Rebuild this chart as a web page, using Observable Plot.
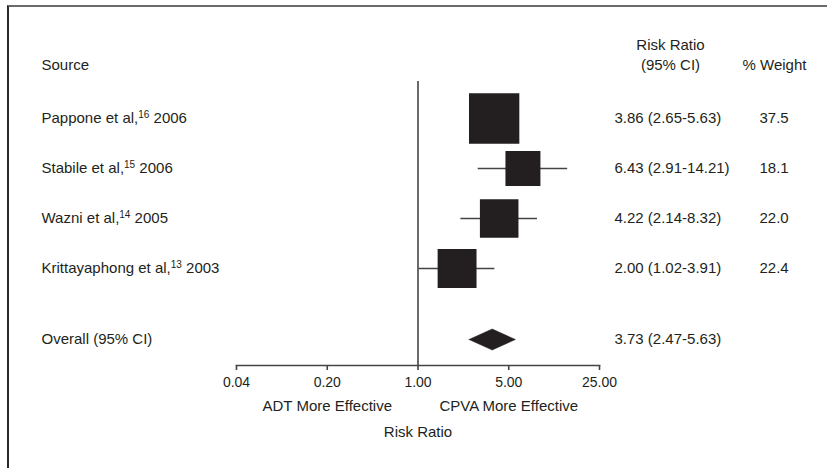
<!DOCTYPE html>
<html>
<head>
<meta charset="utf-8">
<script src="https://cdn.jsdelivr.net/npm/d3@7"></script>
<script src="https://cdn.jsdelivr.net/npm/@observablehq/plot@0.6"></script>
<style>
  html, body { margin: 0; padding: 0; background: #fff; }
  #wrap { position: relative; width: 827px; height: 468px; overflow: hidden; }
  #box { position: absolute; left: 7px; top: 5px; width: 900px; height: 600px;
         border-top: 2px solid #6a6a6a; border-left: 2px solid #2a2a2a; }
  #chart { position: absolute; left: 0; top: 0; }
</style>
</head>
<body>
<div id="wrap"><div id="box"></div><div id="chart"></div></div>
<script>
// ---- data ----
const authors = ["Pappone et al", "Stabile et al", "Wazni et al", "Krittayaphong et al"];
const refs    = ["16", "15", "14", "13"];
const years   = ["2006", "2006", "2005", "2003"];
const rr      = [3.86, 6.43, 4.22, 2.00];
const lower   = [2.65, 2.91, 2.14, 1.02];
const upper   = [5.63, 14.21, 8.32, 3.91];
const weights = [37.5, 18.1, 22.0, 22.4];
const rows    = [1, 2, 3, 4];

const overallLabel = "Overall (95% CI)";
const overallRR = 3.73, overallLo = 2.47, overallHi = 5.63;
const overallRow = 5.42;

const xTicks = [0.04, 0.2, 1, 5, 25];
const leftLabel = "ADT More Effective";
const rightLabel = "CPVA More Effective";
const axisTitle = "Risk Ratio";

// ---- tables built from arrays ----
const studies = authors.map((a, i) => ({
  author: a, ref: refs[i], year: years[i], rr: rr[i], lo: lower[i], hi: upper[i],
  w: weights[i], row: rows[i],
  label: `${a},${refs[i]} ${years[i]}`,
  ci: `${rr[i].toFixed(2)} (${lower[i].toFixed(2)}-${upper[i].toFixed(2)})`,
  wt: weights[i].toFixed(1)
}));
const halfH = 0.21; // diamond half-height in row units
const diamond = [
  {x: overallLo, y: overallRow},
  {x: overallRR, y: overallRow - halfH},
  {x: overallHi, y: overallRow},
  {x: overallRR, y: overallRow + halfH},
  {x: overallLo, y: overallRow}
];

const ink = "#231f20";
const font = "'Liberation Sans', Arial, sans-serif";
const fs = 15;
const T = {fill: ink, fontSize: fs, lineAnchor: "middle"};

const plot = Plot.plot({
  width: 827, height: 468,
  marginLeft: 236, marginRight: 228, marginTop: 81, marginBottom: 103,
  style: {fontFamily: font, fontSize: fs + "px", color: ink, background: "transparent", overflow: "visible"},
  x: {type: "log", domain: [0.04, 25], axis: null},
  y: {type: "linear", domain: [1, 4], range: [118, 268], axis: null},
  r: {type: "sqrt", domain: [0, 37.5], range: [0, 28.4]},
  marks: [
    Plot.ruleX([1], {stroke: "#6a6a6a", strokeWidth: 2}),
    Plot.frame({anchor: "bottom", stroke: "#444", strokeWidth: 1.6}),
    Plot.axisX({ticks: xTicks, tickSize: 5, text: null, stroke: "#444", strokeWidth: 1.6, label: null}),
    Plot.text(xTicks, {x: d => d, text: d3.format(".2f"), frameAnchor: "bottom", dy: 17, ...T, fontSize: 14}),
    Plot.ruleY(studies, {y: "row", x1: "lo", x2: "hi", stroke: "#444", strokeWidth: 1.6}),
    Plot.dot(studies, {x: "rr", y: "row", r: "w", symbol: "square", fill: ink, stroke: null}),
    Plot.line(diamond, {x: "x", y: "y", fill: ink, stroke: ink, strokeWidth: 0.5}),
    // left column
    Plot.text(["Source"], {frameAnchor: "top-left", dx: -195, dy: -16, ...T}),
    Plot.text(studies, {y: "row", text: "label", frameAnchor: "left", dx: -195, ...T}),
    Plot.text([overallLabel], {y: [overallRow], frameAnchor: "left", dx: -195, ...T}),
    // right columns
    Plot.text(["Risk Ratio"], {frameAnchor: "top-right", dx: 71, dy: -36, textAnchor: "middle", ...T}),
    Plot.text(["(95% CI)"], {frameAnchor: "top-right", dx: 71, dy: -16, textAnchor: "middle", ...T}),
    Plot.text(["% Weight"], {frameAnchor: "top-right", dx: 143, dy: -16, textAnchor: "start", ...T}),
    Plot.text(studies, {y: "row", text: "ci", frameAnchor: "right", dx: 15, textAnchor: "start", ...T}),
    Plot.text(studies, {y: "row", text: "wt", frameAnchor: "right", dx: 160, textAnchor: "start", ...T}),
    Plot.text([`${overallRR.toFixed(2)} (${overallLo.toFixed(2)}-${overallHi.toFixed(2)})`], {y: [overallRow], frameAnchor: "right", dx: 15, textAnchor: "start", ...T}),
    // axis annotations
    Plot.text([leftLabel], {x: [0.2], frameAnchor: "bottom", dy: 41, ...T}),
    Plot.text([rightLabel], {x: [5], frameAnchor: "bottom", dy: 41, ...T}),
    Plot.text([axisTitle], {x: [1], frameAnchor: "bottom", dy: 67, ...T})
  ]
});
document.getElementById("chart").appendChild(plot);

// superscript reference numbers
const ns = "http://www.w3.org/2000/svg";
const byLabel = new Map(studies.map(s => [s.label, s]));
plot.querySelectorAll("text").forEach(t => {
  const s = byLabel.get(t.textContent);
  if (!s) return;
  while (t.firstChild) t.removeChild(t.firstChild);
  const a = document.createElementNS(ns, "tspan"); a.textContent = s.author + ",";
  const b = document.createElementNS(ns, "tspan"); b.textContent = s.ref;
  b.setAttribute("font-size", "10"); b.setAttribute("dy", "-5");
  const c = document.createElementNS(ns, "tspan"); c.textContent = " " + s.year;
  c.setAttribute("dy", "5");
  t.append(a, b, c);
});
</script>
</body>
</html>
